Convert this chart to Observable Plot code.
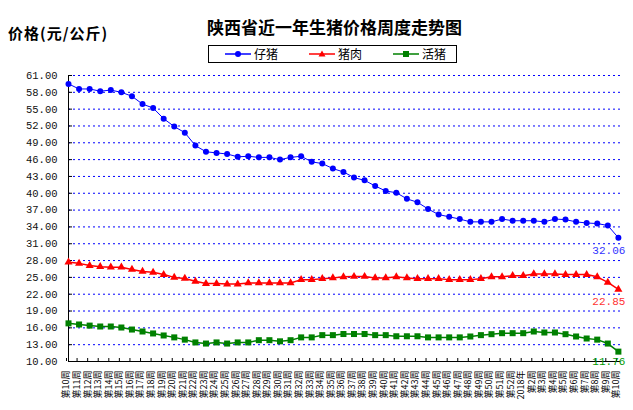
<!DOCTYPE html>
<html>
<head>
<meta charset="utf-8">
<script src="https://cdn.jsdelivr.net/npm/d3@7"></script>
<script src="https://cdn.jsdelivr.net/npm/@observablehq/plot@0.6"></script>
<style>
  html, body { margin: 0; padding: 0; background: #fff; }
  #wrap { position: relative; width: 633px; height: 410px; font-family: "Noto Sans CJK SC", sans-serif; }
  #title { position: absolute; left: 207px; top: 17px; font-size: 17px; font-weight: bold; line-height: 20px; white-space: nowrap; color: #000; }
  #ylab { position: absolute; left: 8px; top: 24px; font-size: 15px; letter-spacing: 1px; font-weight: bold; line-height: 18px; white-space: nowrap; color: #000; }
  #legend { position: absolute; left: 208px; top: 45px; width: 249px; height: 18px; border: 1.5px solid #000; box-sizing: border-box; }
  .item { position: absolute; top: 0; height: 15px; display: flex; align-items: center; font-size: 12px; line-height: 15px; white-space: nowrap; }
  .item svg { margin-right: 3px; }
  #chart { position: absolute; left: 0; top: 0; }
</style>
</head>
<body>
<div id="wrap">
  <div id="chart"></div>
  <div id="title">陕西省近一年生猪价格周度走势图</div>
  <div id="ylab">价格(元/公斤)</div>
  <div id="legend"></div>
</div>
<script>
const weeks = ["第10周","第11周","第12周","第13周","第14周","第15周","第16周","第17周","第18周","第19周",
  "第20周","第21周","第22周","第23周","第24周","第25周","第26周","第27周","第28周","第29周",
  "第30周","第31周","第32周","第33周","第34周","第35周","第36周","第37周","第38周","第39周",
  "第40周","第41周","第42周","第43周","第44周","第45周","第46周","第47周","第48周","第49周",
  "第50周","第51周","第52周","2018年","第2周","第3周","第4周","第5周","第6周","第7周",
  "第8周","第9周","第10周"];

const piglet = [59.5, 58.6, 58.6, 58.2, 58.4, 58.0, 57.3, 55.9, 55.2, 53.3, 51.9, 50.8, 48.5, 47.4, 47.2, 47.0, 46.5,
  46.6, 46.4, 46.4, 46.0, 46.4, 46.6, 45.6, 45.3, 44.4, 43.8, 42.8, 42.3, 41.3, 40.4, 40.1, 39.0, 38.4, 37.2,
  36.2, 35.8, 35.4, 34.9, 34.9, 34.9, 35.4, 35.1, 35.1, 35.1, 34.9, 35.4, 35.3, 34.9, 34.7, 34.6, 34.25, 32.06];

const pork = [27.7, 27.5, 27.1, 26.9, 26.8, 26.8, 26.4, 26.05, 25.9, 25.5, 25.0, 24.8, 24.3, 23.9, 23.9, 23.8, 23.8,
  24.0, 24.0, 24.0, 24.0, 24.0, 24.6, 24.6, 24.75, 24.9, 25.1, 25.15, 25.15, 24.9, 24.9, 25.1, 24.9, 24.75, 24.75,
  24.75, 24.6, 24.6, 24.6, 24.75, 25.1, 25.1, 25.3, 25.3, 25.6, 25.6, 25.6, 25.5, 25.5, 25.5, 25.1, 24.1, 22.85];

const hog = [16.8, 16.6, 16.4, 16.24, 16.24, 16.06, 15.7, 15.35, 15.0, 14.64, 14.3, 13.9, 13.4, 13.2, 13.4, 13.2, 13.4,
  13.4, 13.8, 13.8, 13.6, 13.8, 14.3, 14.3, 14.7, 14.7, 14.9, 14.9, 14.9, 14.7, 14.7, 14.5, 14.5, 14.5, 14.3,
  14.3, 14.3, 14.3, 14.46, 14.7, 14.87, 15.05, 15.05, 15.05, 15.35, 15.17, 15.17, 14.87, 14.46, 14.1, 13.9, 13.2, 11.76];

const yTicks = [10, 13, 16, 19, 22, 25, 28, 31, 34, 37, 40, 43, 46, 49, 52, 55, 58, 61];

const seriesNames = ["仔猪", "猪肉", "活猪"];
const seriesColors = ["#0000ff", "#ff0000", "#008000"];
const seriesSymbols = ["circle", "triangle", "square"];

const data = weeks.map((w, i) => ({i, week: w, piglet: piglet[i], pork: pork[i], hog: hog[i]}));
const idx = data.map(d => d.i);
const last = data.slice(-1);

const chart = Plot.plot({
  width: 633,
  height: 410,
  marginTop: 75,
  marginBottom: 49,
  marginLeft: 68,
  marginRight: 13,
  style: {fontFamily: "'Noto Sans CJK SC', sans-serif", background: "transparent", overflow: "visible", color: "#000"},
  x: {type: "linear", domain: [0, 52.2], label: null},
  y: {domain: [10, 61], label: null},
  marks: [
    Plot.ruleY(yTicks.filter(d => d > 10), {stroke: "#0000ff", strokeDasharray: "2,3", strokeWidth: 1}),
    Plot.axisY({ticks: yTicks, tickSize: 0, tickPadding: 11, tickFormat: d => d.toFixed(2), label: null,
      fontFamily: "Liberation Mono", fontSize: 10.5, fill: "#111"}),
    Plot.axisY({ticks: yTicks, tickSize: -4, tickFormat: () => "", label: null}),
    Plot.axisX({ticks: idx, tickSize: -3, tickPadding: 12, tickRotate: -90, tickFormat: i => weeks[i], label: null,
      fontSize: 9, dx: -2, fill: "#000"}),
    Plot.ruleX([0], {stroke: "#000"}),
    Plot.ruleY([10], {stroke: "#000"}),
    Plot.line(data, {x: "i", y: "piglet", stroke: seriesColors[0], strokeWidth: 1}),
    Plot.dot(data, {x: "i", y: "piglet", fill: seriesColors[0], r: 3, symbol: seriesSymbols[0]}),
    Plot.line(data, {x: "i", y: "pork", stroke: seriesColors[1], strokeWidth: 1.5}),
    Plot.dot(data, {x: "i", y: "pork", fill: seriesColors[1], r: 3, symbol: seriesSymbols[1]}),
    Plot.line(data, {x: "i", y: "hog", stroke: seriesColors[2], strokeWidth: 1.5}),
    Plot.dot(data, {x: "i", y: "hog", fill: seriesColors[2], r: 3.4, symbol: seriesSymbols[2]}),
    Plot.text(last, {x: "i", y: "piglet", text: d => d.piglet.toFixed(2), dx: 7, dy: 13, textAnchor: "end",
      fill: "#3333ff", fontFamily: "Liberation Mono", fontSize: 11}),
    Plot.text(last, {x: "i", y: "pork", text: d => d.pork.toFixed(2), dx: 7, dy: 12, textAnchor: "end",
      fill: "#ff3333", fontFamily: "Liberation Mono", fontSize: 11}),
    Plot.text(last, {x: "i", y: "hog", text: d => d.hog.toFixed(2), dx: 7, dy: 10, textAnchor: "end",
      fill: "#009900", fontFamily: "Liberation Mono", fontSize: 11})
  ]
});
document.getElementById("chart").appendChild(chart);

// legend
const legend = document.getElementById("legend");
seriesNames.forEach((name, k) => {
  const item = document.createElement("div");
  item.className = "item";
  item.style.left = (16 + 84 * k) + "px";
  const c = seriesColors[k];
  let marker;
  if (k === 0) marker = `<circle cx="13" cy="6" r="3" fill="${c}"/>`;
  else if (k === 1) marker = `<path d="M13,2.5L16.5,8.5L9.5,8.5Z" fill="${c}"/>`;
  else marker = `<rect x="10" y="3" width="6" height="6" fill="${c}"/>`;
  item.innerHTML = `<svg width="26" height="12"><line x1="0" x2="26" y1="6" y2="6" stroke="${c}" stroke-width="1.5"/>${marker}</svg><span>${name}</span>`;
  legend.appendChild(item);
});
</script>
</body>
</html>
